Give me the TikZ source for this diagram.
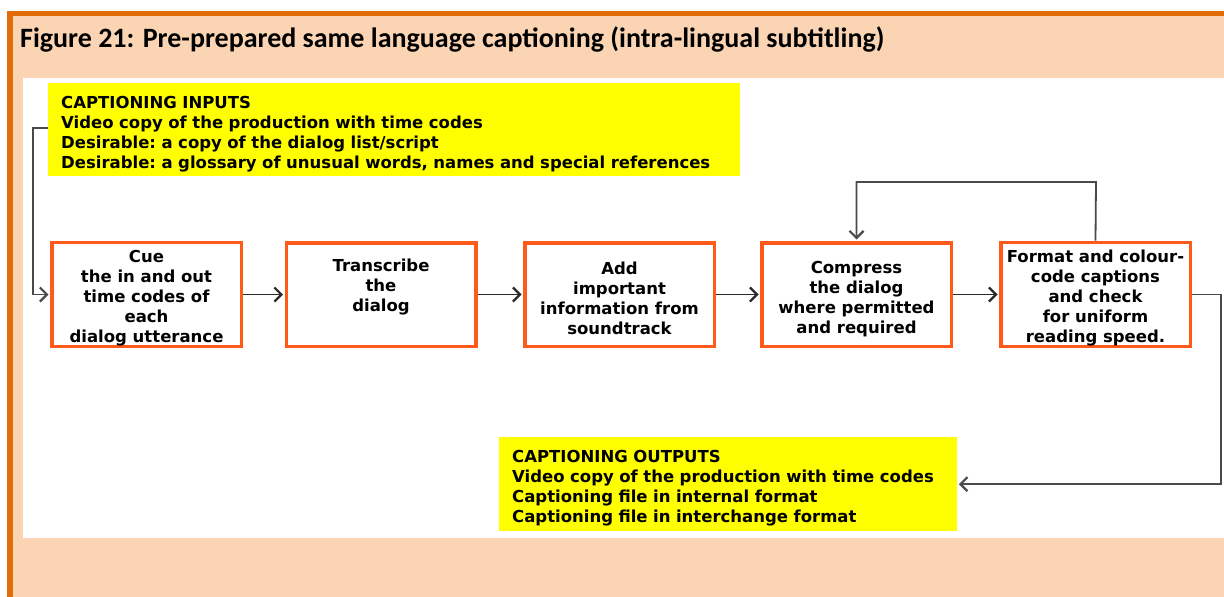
\documentclass[tikz,border=0pt]{standalone}
\usepackage{fontspec}
\setmainfont{DejaVu Sans}
\newfontfamily\titlefont{Carlito}
\usetikzlibrary{arrows.meta}
\definecolor{peach}{HTML}{FBD4B4}
\definecolor{frameorange}{HTML}{E36C0A}
\definecolor{boxorange}{HTML}{FF5A1A}
\definecolor{yel}{HTML}{FFFF00}
\definecolor{darkline}{HTML}{2A2A2A}
\definecolor{greyline}{HTML}{4A4A4A}
\newcommand\topgap{\rule{0pt}{20.5pt}}
\tikzset{
  txt/.style={font=\fontsize{16.5}{20}\selectfont\bfseries\frenchspacing, text=black},
  stepbox/.style={draw=boxorange, line width=3.5pt, fill=white, minimum width=189.5pt, minimum height=103.5pt, inner sep=0pt, align=center, txt},
  infobox/.style={fill=yel, inner xsep=13pt, inner ysep=0pt, align=left, txt, anchor=north west},
  arr/.style={draw=darkline, line width=1.8pt, -{Straight Barb[length=7pt,width=14pt,line width=2.2pt]}, shorten >=1.5pt},
  conn/.style={draw=greyline, line width=1.8pt, -{Straight Barb[length=7pt,width=14pt,line width=2.2pt]}, shorten >=1.5pt},
}
\begin{document}
\begin{tikzpicture}[x=1pt,y=-1pt]
\useasboundingbox (0,0) rectangle (1224,597);
% background
\fill[peach] (12,15) rectangle (1224,597);
\fill[frameorange] (7,10.5) rectangle (1224,15.5);
\fill[frameorange] (7,10.5) rectangle (12.5,597);
\fill[white] (23,78) rectangle (1224,538);
% title
\node[anchor=base west, inner sep=0pt, font=\titlefont\bfseries\fontsize{28}{32}\selectfont] (title) at (20,47) {Figure 21: Pre-prepared same language captioning (intra-lingual subtitling)};
% input box
\node[infobox, minimum width=692pt, minimum height=93pt, text width=666pt] (inp) at (48,83) {\topgap CAPTIONING INPUTS\\Video copy of the production with time codes\\Desirable: a copy of the dialog list/script\\Desirable: a glossary of unusual words, names and special references};
% output box
\node[infobox, minimum width=458pt, minimum height=94pt, text width=432pt] (out) at (499,437) {\topgap CAPTIONING OUTPUTS\\Video copy of the production with time codes\\Captioning file in internal format\\Captioning file in interchange format};
% steps
\node[stepbox] (b1) at (146.5,294.5) {\topgap Cue\\the in and out\\time codes of\\each\\dialog utterance};
\node[stepbox] (b2) at (381,294.5) {\topgap Transcribe\\the\\dialog\\\strut};
\node[stepbox] (b3) at (619.5,294.5) {\topgap Add\\important\\information from\\soundtrack};
\node[stepbox] (b4) at (856.5,294.5) {\topgap Compress\\the dialog\\where permitted\\and required};
\node[stepbox] (b5) at (1095.5,294.5) {\topgap Format and colour-\\code captions\\and check\\for uniform\\reading speed.};
% arrows
\draw[arr] (b1) -- (b2);
\draw[arr] (b2) -- (b3);
\draw[arr] (b3) -- (b4);
\draw[arr] (b4) -- (b5);
\coordinate (lft) at (33,128);
\draw[conn] (inp.west |- lft) -- (lft) |- (b1.west);
\coordinate (top) at (1096,182);
\draw[conn] (b5.north) -- (top) -| (b4.north);
\coordinate (rt) at (1221,294.5);
\draw[conn] (b5.east) -- (rt) |- (out.east);
\end{tikzpicture}
\end{document}
